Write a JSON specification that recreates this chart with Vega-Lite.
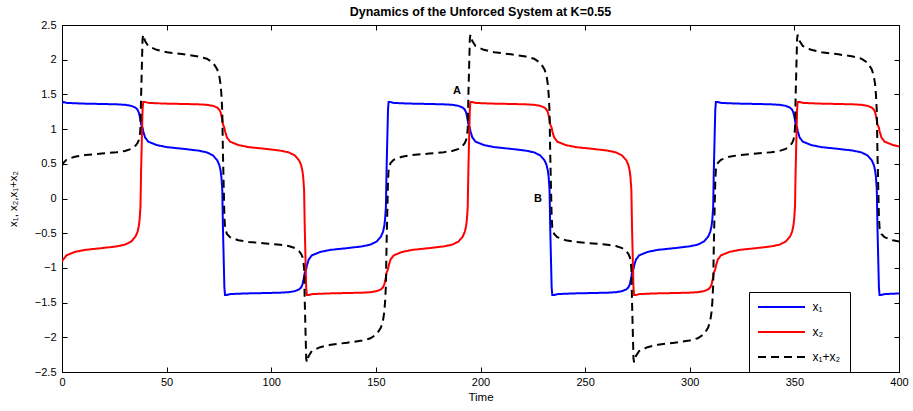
{
  "$schema": "https://vega.github.io/schema/vega-lite/v6.json",
  "width": 837,
  "height": 347,
  "autosize": {"type": "none"},
  "padding": {"left": 62, "top": 25, "right": 14, "bottom": 39},
  "background": "white",
  "title": {
    "text": "Dynamics of the Unforced System at K=0.55",
    "fontSize": 12.5,
    "fontWeight": "bold",
    "color": "black",
    "anchor": "middle",
    "offset": 1
  },
  "datasets": {
    "traj": [
      {"t": 0, "x1": 1.37, "x2": -0.9, "sum": 0.47},
      {"t": 0.6, "x1": 1.39, "x2": -0.88, "sum": 0.51},
      {"t": 2.1, "x1": 1.378, "x2": -0.82, "sum": 0.558},
      {"t": 6.1, "x1": 1.372, "x2": -0.77, "sum": 0.602},
      {"t": 11.1, "x1": 1.367, "x2": -0.74, "sum": 0.627},
      {"t": 19.1, "x1": 1.362, "x2": -0.715, "sum": 0.647},
      {"t": 26.1, "x1": 1.357, "x2": -0.69, "sum": 0.667},
      {"t": 30.1, "x1": 1.35, "x2": -0.665, "sum": 0.685},
      {"t": 33.1, "x1": 1.335, "x2": -0.62, "sum": 0.715},
      {"t": 35.1, "x1": 1.31, "x2": -0.55, "sum": 0.76},
      {"t": 36.1, "x1": 1.28, "x2": -0.48, "sum": 0.8},
      {"t": 36.7, "x1": 1.24, "x2": -0.4, "sum": 0.84},
      {"t": 37.1, "x1": 1.19, "x2": -0.3, "sum": 0.89},
      {"t": 37.5, "x1": 1.13, "x2": -0.12, "sum": 1.01},
      {"t": 37.8, "x1": 1.07, "x2": 0.4, "sum": 1.47},
      {"t": 38.5, "x1": 1.02, "x2": 1.28, "sum": 2.3},
      {"t": 38.8, "x1": 0.97, "x2": 1.39, "sum": 2.36},
      {"t": 39.7, "x1": 0.88, "x2": 1.39, "sum": 2.27},
      {"t": 41.2, "x1": 0.82, "x2": 1.378, "sum": 2.198},
      {"t": 45.2, "x1": 0.77, "x2": 1.372, "sum": 2.142},
      {"t": 50.2, "x1": 0.74, "x2": 1.367, "sum": 2.107},
      {"t": 58.2, "x1": 0.715, "x2": 1.362, "sum": 2.077},
      {"t": 65.2, "x1": 0.69, "x2": 1.357, "sum": 2.047},
      {"t": 69.2, "x1": 0.665, "x2": 1.35, "sum": 2.015},
      {"t": 72.2, "x1": 0.62, "x2": 1.335, "sum": 1.955},
      {"t": 74.2, "x1": 0.55, "x2": 1.31, "sum": 1.86},
      {"t": 75.2, "x1": 0.48, "x2": 1.28, "sum": 1.76},
      {"t": 75.8, "x1": 0.4, "x2": 1.24, "sum": 1.64},
      {"t": 76.2, "x1": 0.3, "x2": 1.19, "sum": 1.49},
      {"t": 76.6, "x1": 0.12, "x2": 1.13, "sum": 1.25},
      {"t": 76.9, "x1": -0.4, "x2": 1.07, "sum": 0.67},
      {"t": 77.6, "x1": -1.28, "x2": 1.02, "sum": -0.26},
      {"t": 77.9, "x1": -1.39, "x2": 0.97, "sum": -0.42},
      {"t": 78.8, "x1": -1.39, "x2": 0.88, "sum": -0.51},
      {"t": 80.3, "x1": -1.378, "x2": 0.82, "sum": -0.558},
      {"t": 84.3, "x1": -1.372, "x2": 0.77, "sum": -0.602},
      {"t": 89.3, "x1": -1.367, "x2": 0.74, "sum": -0.627},
      {"t": 97.3, "x1": -1.362, "x2": 0.715, "sum": -0.647},
      {"t": 104.3, "x1": -1.357, "x2": 0.69, "sum": -0.667},
      {"t": 108.3, "x1": -1.35, "x2": 0.665, "sum": -0.685},
      {"t": 111.3, "x1": -1.335, "x2": 0.62, "sum": -0.715},
      {"t": 113.3, "x1": -1.31, "x2": 0.55, "sum": -0.76},
      {"t": 114.3, "x1": -1.28, "x2": 0.48, "sum": -0.8},
      {"t": 114.9, "x1": -1.24, "x2": 0.4, "sum": -0.84},
      {"t": 115.3, "x1": -1.19, "x2": 0.3, "sum": -0.89},
      {"t": 115.7, "x1": -1.13, "x2": 0.12, "sum": -1.01},
      {"t": 116.0, "x1": -1.07, "x2": -0.4, "sum": -1.47},
      {"t": 116.7, "x1": -1.02, "x2": -1.28, "sum": -2.3},
      {"t": 117.0, "x1": -0.97, "x2": -1.39, "sum": -2.36},
      {"t": 117.9, "x1": -0.88, "x2": -1.39, "sum": -2.27},
      {"t": 119.4, "x1": -0.82, "x2": -1.378, "sum": -2.198},
      {"t": 123.4, "x1": -0.77, "x2": -1.372, "sum": -2.142},
      {"t": 128.4, "x1": -0.74, "x2": -1.367, "sum": -2.107},
      {"t": 136.4, "x1": -0.715, "x2": -1.362, "sum": -2.077},
      {"t": 143.4, "x1": -0.69, "x2": -1.357, "sum": -2.047},
      {"t": 147.4, "x1": -0.665, "x2": -1.35, "sum": -2.015},
      {"t": 150.4, "x1": -0.62, "x2": -1.335, "sum": -1.955},
      {"t": 152.4, "x1": -0.55, "x2": -1.31, "sum": -1.86},
      {"t": 153.4, "x1": -0.48, "x2": -1.28, "sum": -1.76},
      {"t": 154.0, "x1": -0.4, "x2": -1.24, "sum": -1.64},
      {"t": 154.4, "x1": -0.3, "x2": -1.19, "sum": -1.49},
      {"t": 154.8, "x1": -0.12, "x2": -1.13, "sum": -1.25},
      {"t": 155.1, "x1": 0.4, "x2": -1.07, "sum": -0.67},
      {"t": 155.8, "x1": 1.28, "x2": -1.02, "sum": 0.26},
      {"t": 156.1, "x1": 1.39, "x2": -0.97, "sum": 0.42},
      {"t": 157.0, "x1": 1.39, "x2": -0.88, "sum": 0.51},
      {"t": 158.5, "x1": 1.378, "x2": -0.82, "sum": 0.558},
      {"t": 162.5, "x1": 1.372, "x2": -0.77, "sum": 0.602},
      {"t": 167.5, "x1": 1.367, "x2": -0.74, "sum": 0.627},
      {"t": 175.5, "x1": 1.362, "x2": -0.715, "sum": 0.647},
      {"t": 182.5, "x1": 1.357, "x2": -0.69, "sum": 0.667},
      {"t": 186.5, "x1": 1.35, "x2": -0.665, "sum": 0.685},
      {"t": 189.5, "x1": 1.335, "x2": -0.62, "sum": 0.715},
      {"t": 191.5, "x1": 1.31, "x2": -0.55, "sum": 0.76},
      {"t": 192.5, "x1": 1.28, "x2": -0.48, "sum": 0.8},
      {"t": 193.1, "x1": 1.24, "x2": -0.4, "sum": 0.84},
      {"t": 193.5, "x1": 1.19, "x2": -0.3, "sum": 0.89},
      {"t": 193.9, "x1": 1.13, "x2": -0.12, "sum": 1.01},
      {"t": 194.2, "x1": 1.07, "x2": 0.4, "sum": 1.47},
      {"t": 194.9, "x1": 1.02, "x2": 1.28, "sum": 2.3},
      {"t": 195.2, "x1": 0.97, "x2": 1.39, "sum": 2.36},
      {"t": 196.1, "x1": 0.88, "x2": 1.39, "sum": 2.27},
      {"t": 197.6, "x1": 0.82, "x2": 1.378, "sum": 2.198},
      {"t": 201.6, "x1": 0.77, "x2": 1.372, "sum": 2.142},
      {"t": 206.6, "x1": 0.74, "x2": 1.367, "sum": 2.107},
      {"t": 214.6, "x1": 0.715, "x2": 1.362, "sum": 2.077},
      {"t": 221.6, "x1": 0.69, "x2": 1.357, "sum": 2.047},
      {"t": 225.6, "x1": 0.665, "x2": 1.35, "sum": 2.015},
      {"t": 228.6, "x1": 0.62, "x2": 1.335, "sum": 1.955},
      {"t": 230.6, "x1": 0.55, "x2": 1.31, "sum": 1.86},
      {"t": 231.6, "x1": 0.48, "x2": 1.28, "sum": 1.76},
      {"t": 232.2, "x1": 0.4, "x2": 1.24, "sum": 1.64},
      {"t": 232.6, "x1": 0.3, "x2": 1.19, "sum": 1.49},
      {"t": 233.0, "x1": 0.12, "x2": 1.13, "sum": 1.25},
      {"t": 233.3, "x1": -0.4, "x2": 1.07, "sum": 0.67},
      {"t": 234.0, "x1": -1.28, "x2": 1.02, "sum": -0.26},
      {"t": 234.3, "x1": -1.39, "x2": 0.97, "sum": -0.42},
      {"t": 235.2, "x1": -1.39, "x2": 0.88, "sum": -0.51},
      {"t": 236.7, "x1": -1.378, "x2": 0.82, "sum": -0.558},
      {"t": 240.7, "x1": -1.372, "x2": 0.77, "sum": -0.602},
      {"t": 245.7, "x1": -1.367, "x2": 0.74, "sum": -0.627},
      {"t": 253.7, "x1": -1.362, "x2": 0.715, "sum": -0.647},
      {"t": 260.7, "x1": -1.357, "x2": 0.69, "sum": -0.667},
      {"t": 264.7, "x1": -1.35, "x2": 0.665, "sum": -0.685},
      {"t": 267.7, "x1": -1.335, "x2": 0.62, "sum": -0.715},
      {"t": 269.7, "x1": -1.31, "x2": 0.55, "sum": -0.76},
      {"t": 270.7, "x1": -1.28, "x2": 0.48, "sum": -0.8},
      {"t": 271.3, "x1": -1.24, "x2": 0.4, "sum": -0.84},
      {"t": 271.7, "x1": -1.19, "x2": 0.3, "sum": -0.89},
      {"t": 272.1, "x1": -1.13, "x2": 0.12, "sum": -1.01},
      {"t": 272.4, "x1": -1.07, "x2": -0.4, "sum": -1.47},
      {"t": 273.1, "x1": -1.02, "x2": -1.28, "sum": -2.3},
      {"t": 273.4, "x1": -0.97, "x2": -1.39, "sum": -2.36},
      {"t": 274.3, "x1": -0.88, "x2": -1.39, "sum": -2.27},
      {"t": 275.8, "x1": -0.82, "x2": -1.378, "sum": -2.198},
      {"t": 279.8, "x1": -0.77, "x2": -1.372, "sum": -2.142},
      {"t": 284.8, "x1": -0.74, "x2": -1.367, "sum": -2.107},
      {"t": 292.8, "x1": -0.715, "x2": -1.362, "sum": -2.077},
      {"t": 299.8, "x1": -0.69, "x2": -1.357, "sum": -2.047},
      {"t": 303.8, "x1": -0.665, "x2": -1.35, "sum": -2.015},
      {"t": 306.8, "x1": -0.62, "x2": -1.335, "sum": -1.955},
      {"t": 308.8, "x1": -0.55, "x2": -1.31, "sum": -1.86},
      {"t": 309.8, "x1": -0.48, "x2": -1.28, "sum": -1.76},
      {"t": 310.4, "x1": -0.4, "x2": -1.24, "sum": -1.64},
      {"t": 310.8, "x1": -0.3, "x2": -1.19, "sum": -1.49},
      {"t": 311.2, "x1": -0.12, "x2": -1.13, "sum": -1.25},
      {"t": 311.5, "x1": 0.4, "x2": -1.07, "sum": -0.67},
      {"t": 312.2, "x1": 1.28, "x2": -1.02, "sum": 0.26},
      {"t": 312.5, "x1": 1.39, "x2": -0.97, "sum": 0.42},
      {"t": 313.4, "x1": 1.39, "x2": -0.88, "sum": 0.51},
      {"t": 314.9, "x1": 1.378, "x2": -0.82, "sum": 0.558},
      {"t": 318.9, "x1": 1.372, "x2": -0.77, "sum": 0.602},
      {"t": 323.9, "x1": 1.367, "x2": -0.74, "sum": 0.627},
      {"t": 331.9, "x1": 1.362, "x2": -0.715, "sum": 0.647},
      {"t": 338.9, "x1": 1.357, "x2": -0.69, "sum": 0.667},
      {"t": 342.9, "x1": 1.35, "x2": -0.665, "sum": 0.685},
      {"t": 345.9, "x1": 1.335, "x2": -0.62, "sum": 0.715},
      {"t": 347.9, "x1": 1.31, "x2": -0.55, "sum": 0.76},
      {"t": 348.9, "x1": 1.28, "x2": -0.48, "sum": 0.8},
      {"t": 349.5, "x1": 1.24, "x2": -0.4, "sum": 0.84},
      {"t": 349.9, "x1": 1.19, "x2": -0.3, "sum": 0.89},
      {"t": 350.3, "x1": 1.13, "x2": -0.12, "sum": 1.01},
      {"t": 350.6, "x1": 1.07, "x2": 0.4, "sum": 1.47},
      {"t": 351.3, "x1": 1.02, "x2": 1.28, "sum": 2.3},
      {"t": 351.6, "x1": 0.97, "x2": 1.39, "sum": 2.36},
      {"t": 352.5, "x1": 0.88, "x2": 1.39, "sum": 2.27},
      {"t": 354.0, "x1": 0.82, "x2": 1.378, "sum": 2.198},
      {"t": 358.0, "x1": 0.77, "x2": 1.372, "sum": 2.142},
      {"t": 363.0, "x1": 0.74, "x2": 1.367, "sum": 2.107},
      {"t": 371.0, "x1": 0.715, "x2": 1.362, "sum": 2.077},
      {"t": 378.0, "x1": 0.69, "x2": 1.357, "sum": 2.047},
      {"t": 382.0, "x1": 0.665, "x2": 1.35, "sum": 2.015},
      {"t": 385.0, "x1": 0.62, "x2": 1.335, "sum": 1.955},
      {"t": 387.0, "x1": 0.55, "x2": 1.31, "sum": 1.86},
      {"t": 388.0, "x1": 0.48, "x2": 1.28, "sum": 1.76},
      {"t": 388.6, "x1": 0.4, "x2": 1.24, "sum": 1.64},
      {"t": 389.0, "x1": 0.3, "x2": 1.19, "sum": 1.49},
      {"t": 389.4, "x1": 0.12, "x2": 1.13, "sum": 1.25},
      {"t": 389.7, "x1": -0.4, "x2": 1.07, "sum": 0.67},
      {"t": 390.4, "x1": -1.28, "x2": 1.02, "sum": -0.26},
      {"t": 390.7, "x1": -1.39, "x2": 0.97, "sum": -0.42},
      {"t": 391.6, "x1": -1.39, "x2": 0.88, "sum": -0.51},
      {"t": 393.1, "x1": -1.378, "x2": 0.82, "sum": -0.558},
      {"t": 397.1, "x1": -1.372, "x2": 0.77, "sum": -0.602},
      {"t": 400, "x1": -1.369, "x2": 0.75, "sum": -0.619}
    ],
    "marks": [
      {"t": 188.7, "v": 1.55, "label": "A"},
      {"t": 227.5, "v": 0.0, "label": "B"}
    ]
  },
  "resolve": {"axis": {"x": "independent", "y": "independent"}},
  "layer": [
    {
      "data": {"name": "traj"},
      "transform": [
        {"fold": ["x1", "x2"], "as": ["series", "value"]}
      ],
      "mark": {"type": "line", "strokeWidth": 2, "clip": true},
      "encoding": {
        "x": {
          "field": "t", "type": "quantitative",
          "scale": {"domain": [0, 400], "nice": false, "zero": false},
          "axis": {"orient": "bottom", "title": "Time", "values": [0, 50, 100, 150, 200, 250, 300, 350, 400], "labelPadding": 9, "titlePadding": 4}
        },
        "y": {
          "field": "value", "type": "quantitative",
          "scale": {"domain": [-2.5, 2.5], "nice": false, "zero": false},
          "axis": {"orient": "left", "title": "x₁, x₂,x₁+x₂", "values": [-2.5, -2, -1.5, -1, -0.5, 0, 0.5, 1, 1.5, 2, 2.5], "format": "~g", "labelPadding": 11, "titlePadding": 16}
        },
        "color": {
          "field": "series", "type": "nominal",
          "scale": {"domain": ["x1", "x2", "sum"], "range": ["#0000ff", "#ff0000", "#000000"]},
          "legend": {"labelExpr": "datum.label == 'x1' ? 'x₁' : datum.label == 'x2' ? 'x₂' : 'x₁+x₂'"}
        },
        "strokeDash": {
          "field": "series", "type": "nominal",
          "scale": {"domain": ["x1", "x2", "sum"], "range": [[1, 0], [1, 0], [8, 5]]},
          "legend": {"labelExpr": "datum.label == 'x1' ? 'x₁' : datum.label == 'x2' ? 'x₂' : 'x₁+x₂'"}
        }
      }
    },
    {
      "data": {"name": "traj"},
      "transform": [
        {"fold": ["sum"], "as": ["series", "value"]}
      ],
      "mark": {"type": "line", "strokeWidth": 2, "clip": true},
      "encoding": {
        "x": {"field": "t", "type": "quantitative", "axis": null},
        "y": {"field": "value", "type": "quantitative", "axis": null},
        "color": {"field": "series", "type": "nominal"},
        "strokeDash": {"field": "series", "type": "nominal"}
      }
    },
    {
      "data": {"name": "marks"},
      "mark": {"type": "text", "fontWeight": "bold", "fontSize": 11, "color": "black", "align": "center", "baseline": "middle"},
      "encoding": {
        "x": {
          "field": "t", "type": "quantitative",
          "axis": {"orient": "top", "title": null, "labels": false, "values": [0, 50, 100, 150, 200, 250, 300, 350, 400]}
        },
        "y": {
          "field": "v", "type": "quantitative",
          "axis": {"orient": "right", "title": null, "labels": false, "values": [-2.5, -2, -1.5, -1, -0.5, 0, 0.5, 1, 1.5, 2, 2.5]}
        },
        "text": {"field": "label"}
      }
    }
  ],
  "config": {
    "font": "Liberation Sans",
    "view": {"stroke": "black", "strokeWidth": 1},
    "axis": {
      "grid": false,
      "domain": false,
      "tickColor": "black",
      "tickSize": -5,
      "tickWidth": 1,
      "labelColor": "black",
      "labelFontSize": 11,
      "labelFlush": false,
      "labelOverlap": false,
      "titleColor": "black",
      "titleFontSize": 11.5,
      "titleFontWeight": "normal"
    },
    "legend": {
      "orient": "none",
      "legendX": 687,
      "legendY": 267,
      "title": null,
      "strokeColor": "black",
      "fillColor": "white",
      "padding": 9,
      "cornerRadius": 0,
      "symbolType": "M-4.7,0H4.7",
      "symbolSize": 100,
      "symbolStrokeWidth": 2,
      "symbolOffset": 17.5,
      "labelOffset": 25,
      "rowPadding": 13,
      "labelFontSize": 12,
      "labelColor": "black"
    }
  }
}
